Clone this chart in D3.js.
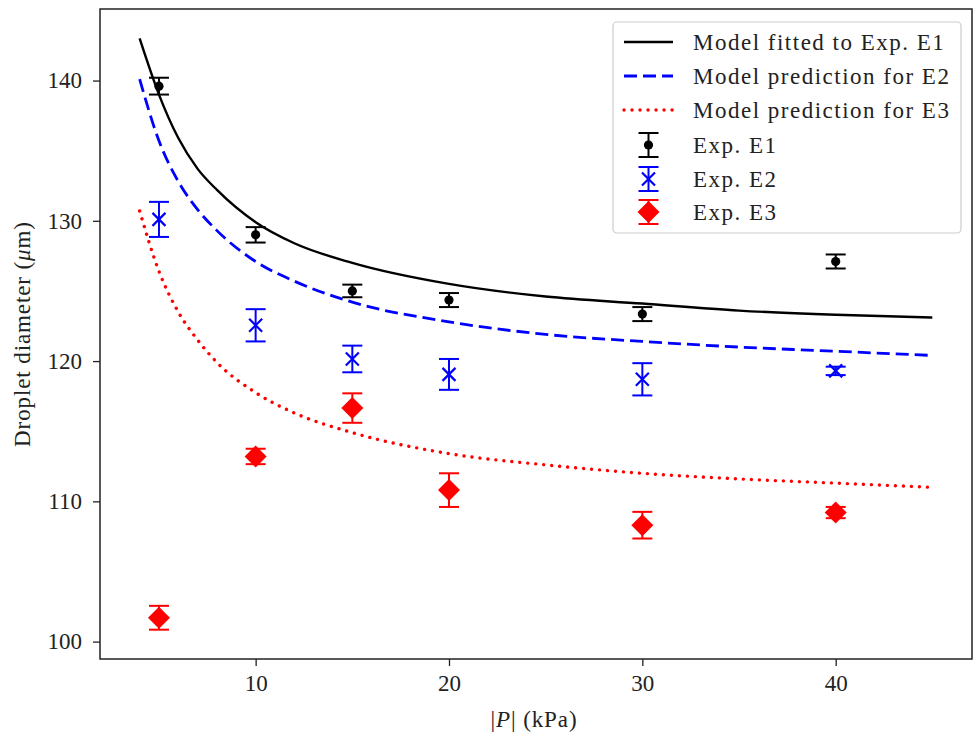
<!DOCTYPE html>
<html>
<head>
<meta charset="utf-8">
<script src="https://cdn.jsdelivr.net/npm/d3@7"></script>
<style>
  html, body { margin: 0; padding: 0; background: #fff; }
  svg { display: block; }
  text { font-family: "Liberation Serif", "DejaVu Serif", serif; fill: #222; }
</style>
</head>
<body>
<svg id="chart" width="973" height="736"></svg>
<script>
// Pressure levels (kPa) of the experiments
const pressures = [5, 10, 15, 20, 30, 40];

// Measured droplet diameters (µm) and their error half-widths
const e1Mean = [139.6, 129.0, 125.0, 124.35, 123.35, 127.1];
const e1Err  = [0.6, 0.55, 0.45, 0.5, 0.5, 0.5];
const e2Mean = [130.1, 122.55, 120.15, 119.05, 118.7, 119.3];
const e2Err  = [1.25, 1.15, 0.95, 1.1, 1.15, 0.3];
const e3Mean = [101.7, 113.2, 116.65, 110.8, 108.3, 109.2];
const e3Err  = [0.85, 0.55, 1.05, 1.2, 0.95, 0.4];

// Model curves sampled along |P|
const modelP  = [4, 5, 6, 7, 8, 10, 12, 15, 20, 25, 30, 35, 40, 45];
const modelE1 = [143.0, 139.0, 135.9, 133.7, 132.2, 129.9, 128.4, 127.0, 125.5, 124.6, 124.1, 123.6, 123.3, 123.1];
const modelE2 = [140.1, 135.7, 132.8, 130.8, 129.3, 127.1, 125.7, 124.2, 122.8, 121.9, 121.4, 121.0, 120.7, 120.4];
const modelE3 = [130.7, 126.4, 123.5, 121.5, 119.9, 117.75, 116.3, 114.9, 113.4, 112.6, 112.0, 111.6, 111.3, 111.0];

// Tick values
const xTicks = [10, 20, 30, 40];
const yTicks = [100, 110, 120, 130, 140];

const legendLabels = [
  "Model fitted to Exp. E1",
  "Model prediction for E2",
  "Model prediction for E3",
  "Exp. E1",
  "Exp. E2",
  "Exp. E3"
];

const svg = d3.select("#chart");
const plotL = 100, plotR = 972, plotT = 9, plotB = 659;

const x = d3.scaleLinear().domain([1.95, 47.05]).range([plotL, plotR]);
const y = d3.scaleLinear().domain([98.76, 145.1]).range([plotB, plotT]);

const fontSize = 23;
const spacing = "0.9px";

// Axes
const xAxis = svg.append("g")
  .attr("transform", `translate(0,${plotB})`)
  .call(d3.axisBottom(x).tickValues(xTicks).tickSize(7).tickPadding(9).tickFormat(d3.format("d")));
const yAxis = svg.append("g")
  .attr("transform", `translate(${plotL},0)`)
  .call(d3.axisLeft(y).tickValues(yTicks).tickSize(7).tickPadding(11).tickFormat(d3.format("d")));
[xAxis, yAxis].forEach(g => {
  g.attr("font-family", "Liberation Serif");
  g.select(".domain").remove();
  g.selectAll(".tick line").attr("stroke", "#222").attr("stroke-width", 1.3);
  g.selectAll(".tick text").attr("font-size", fontSize).attr("font-family", "Liberation Serif").attr("fill", "#222");
});

// Frame
svg.append("rect")
  .attr("x", plotL).attr("y", plotT)
  .attr("width", plotR - plotL).attr("height", plotB - plotT)
  .attr("fill", "none").attr("stroke", "#222").attr("stroke-width", 1.5);

// Axis labels
const xl = svg.append("text")
  .attr("x", 534).attr("y", 727)
  .attr("text-anchor", "middle").attr("font-size", fontSize)
  .style("letter-spacing", spacing);
xl.append("tspan").text("|");
xl.append("tspan").attr("font-style", "italic").text("P");
xl.append("tspan").text("| (kPa)");

const yl = svg.append("text")
  .attr("transform", `translate(30,${(plotT + plotB) / 2}) rotate(-90)`)
  .attr("text-anchor", "middle").attr("font-size", fontSize)
  .style("letter-spacing", spacing);
yl.append("tspan").text("Droplet diameter (");
yl.append("tspan").attr("font-style", "italic").text("μ");
yl.append("tspan").text("m)");

// Model curves
const line = d3.line().curve(d3.curveMonotoneX).x(d => x(d[0])).y(d => y(d[1]));
const curves = [
  { vals: modelE1, color: "#000", dash: null, width: 2.4, cap: "butt" },
  { vals: modelE2, color: "#0000ff", dash: "13,6", width: 2.8, cap: "butt" },
  { vals: modelE3, color: "#ff0000", dash: "0.01,8", width: 3.4, cap: "round" }
];
curves.forEach(c => {
  svg.append("path")
    .datum(modelP.map((p, i) => [p, c.vals[i]]))
    .attr("d", line)
    .attr("fill", "none")
    .attr("stroke", c.color)
    .attr("stroke-width", c.width)
    .attr("stroke-linecap", c.cap)
    .attr("stroke-dasharray", c.dash);
});

// Error bars + markers
const sets = [
  { mean: e1Mean, err: e1Err, color: "#000", marker: "circle" },
  { mean: e2Mean, err: e2Err, color: "#0000ff", marker: "x" },
  { mean: e3Mean, err: e3Err, color: "#ff0000", marker: "diamond" }
];
const capHalf = 10;

function drawMarker(g, type, cx, cy, color) {
  if (type === "circle") {
    g.append("circle").attr("cx", cx).attr("cy", cy).attr("r", 4.6).attr("fill", color);
  } else if (type === "x") {
    const h = 6.5;
    g.append("path")
      .attr("d", `M${cx - h},${cy - h}L${cx + h},${cy + h}M${cx - h},${cy + h}L${cx + h},${cy - h}`)
      .attr("stroke", color).attr("stroke-width", 2.2).attr("fill", "none");
  } else {
    const h = 11;
    g.append("path")
      .attr("d", `M${cx},${cy - h}L${cx + h},${cy}L${cx},${cy + h}L${cx - h},${cy}Z`)
      .attr("fill", color);
  }
}

function drawErrorBar(g, cx, yTop, yBot, color) {
  g.append("line").attr("x1", cx).attr("x2", cx).attr("y1", yTop).attr("y2", yBot)
    .attr("stroke", color).attr("stroke-width", 2);
  [yTop, yBot].forEach(yy => {
    g.append("line").attr("x1", cx - capHalf).attr("x2", cx + capHalf).attr("y1", yy).attr("y2", yy)
      .attr("stroke", color).attr("stroke-width", 2);
  });
}

sets.forEach(s => {
  const g = svg.append("g");
  pressures.forEach((p, i) => {
    const cx = x(p);
    drawErrorBar(g, cx, y(s.mean[i] + s.err[i]), y(s.mean[i] - s.err[i]), s.color);
    drawMarker(g, s.marker, cx, y(s.mean[i]), s.color);
  });
});

// Legend
const lg = svg.append("g");
lg.append("rect")
  .attr("x", 613).attr("y", 22).attr("width", 348).attr("height", 211)
  .attr("rx", 4).attr("ry", 4)
  .attr("fill", "#fff").attr("fill-opacity", 0.85)
  .attr("stroke", "#cccccc").attr("stroke-width", 1.2);

const rowY = [42, 76, 110, 145, 179, 212];
const hx0 = 624, hx1 = 673, hxc = (hx0 + hx1) / 2;
legendLabels.forEach((lab, i) => {
  const yy = rowY[i];
  if (i < 3) {
    const c = curves[i];
    lg.append("line").attr("x1", hx0).attr("x2", hx1).attr("y1", yy).attr("y2", yy)
      .attr("stroke", c.color).attr("stroke-width", c.width)
      .attr("stroke-linecap", c.cap).attr("stroke-dasharray", c.dash);
  } else {
    const s = sets[i - 3];
    drawErrorBar(lg, hxc, yy - 12, yy + 12, s.color);
    drawMarker(lg, s.marker, hxc, yy, s.color);
  }
  lg.append("text").attr("x", 693).attr("y", yy).attr("dy", "0.33em")
    .attr("font-size", fontSize).style("letter-spacing", "1.5px").text(lab);
});
</script>
</body>
</html>
